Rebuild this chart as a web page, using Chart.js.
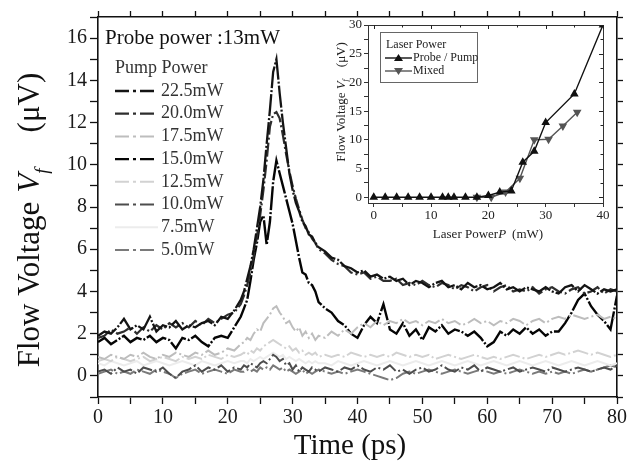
<!DOCTYPE html>
<html>
<head>
<meta charset="utf-8">
<script src="https://cdn.jsdelivr.net/npm/chart.js@4"></script>
<style>
  body { margin: 0; background: #fff; }
  #wrap { position: relative; width: 632px; height: 468px; }
  #main { position: absolute; left: 0; top: 0; }
  #inset { position: absolute; left: 318px; top: 12px; }
</style>
</head>
<body>
<div id="wrap">
  <canvas id="main" width="632" height="468"></canvas>
  <canvas id="inset" width="300" height="236"></canvas>
</div>
<script>
// time axis (ps) - finer steps around the peak
const time = [0,1,2,3,4,5,6,7,8,9,10,11,12,13,14,15,16,17,18,19,20,21,22,
  22.5,23,23.5,24,24.5,25,25.5,26,26.5,27,27.5,28,28.5,29,29.5,30,30.5,31,31.5,32,32.5,33,33.5,34,
  35,36,37,38,39,40,41,42,43,44,45,46,47,48,49,50,51,52,53,54,55,56,57,58,59,60,
  61,62,63,64,65,66,67,68,69,70,71,72,73,74,75,76,77,78,79,80];

// flow voltage (uV) for each pump power
const s225 = [1.9,2.1,2.0,2.3,2.7,2.2,2.4,2.2,2.8,2.1,2.4,2.3,2.6,2.2,2.4,2.3,2.5,2.6,2.4,2.8,2.7,3.1,3.6,
  4.0,4.6,5.2,6.0,7.0,8.0,9.3,11.0,12.6,14.4,15.0,13.4,12.0,10.8,9.6,8.8,8.2,7.8,7.3,7.1,6.7,6.6,6.3,6.1,
  5.9,5.6,5.5,5.2,5.1,4.9,5.0,4.7,4.8,4.6,4.7,4.5,4.6,4.3,4.5,4.4,4.2,4.4,4.5,4.2,4.3,4.1,4.4,4.2,4.3,4.1,
  4.2,4.4,4.1,4.2,4.0,4.2,4.1,4.0,4.2,4.0,3.9,4.2,4.3,4.0,4.3,4.1,3.9,4.1,4.0,4.1];
const s200 = [1.8,1.9,2.2,2.0,2.1,2.3,2.0,2.3,2.1,2.4,2.2,2.5,2.3,2.5,2.3,2.6,2.4,2.7,2.5,2.7,2.9,3.0,3.4,
  3.8,4.3,4.9,5.7,6.6,7.6,8.8,10.2,11.8,12.4,12.5,12.2,11.4,10.5,9.7,9.0,8.4,7.9,7.4,7.0,6.8,6.5,6.3,6.0,
  5.8,5.5,5.3,5.2,4.9,4.8,4.9,4.6,4.7,4.5,4.5,4.6,4.3,4.4,4.3,4.5,4.3,4.2,4.4,4.3,4.1,4.3,4.2,4.0,4.2,4.3,
  4.0,4.2,4.3,4.0,4.1,4.0,4.2,3.9,4.1,4.2,4.0,3.9,4.1,4.2,3.9,4.0,4.2,3.9,4.1,4.0];
const s175 = [0.9,0.8,1.0,0.9,0.8,1.0,0.9,1.1,0.9,0.8,1.0,0.9,1.1,1.0,0.9,1.1,1.0,1.2,1.0,1.1,1.3,1.2,1.5,
  1.6,1.8,1.7,2.0,2.2,2.1,2.5,2.7,2.9,3.2,3.3,3.0,2.8,2.5,2.6,2.3,2.1,2.3,1.9,2.1,1.8,2.0,1.7,1.9,
  1.8,2.1,1.9,2.2,2.0,2.3,2.5,2.3,2.6,2.4,2.6,2.5,2.7,2.5,2.6,2.4,2.6,2.5,2.7,2.5,2.6,2.4,2.5,2.7,2.5,2.6,
  2.4,2.6,2.5,2.7,2.6,2.4,2.6,2.7,2.5,2.7,2.8,2.7,2.9,2.8,2.7,2.8,2.9,2.7,2.8,2.7];
const s150 = [1.6,1.8,1.5,1.7,1.9,1.6,1.8,1.7,1.9,1.6,1.8,1.7,1.3,1.8,1.7,1.9,1.6,1.4,1.8,1.9,1.8,2.3,2.8,
  3.2,3.6,4.5,5.5,6.3,7.3,7.6,6.2,7.3,9.2,10.2,9.6,9.0,8.4,7.8,7.2,6.4,5.6,4.9,4.8,4.4,4.3,4.0,3.5,
  3.2,3.0,2.6,2.4,2.0,1.8,2.4,2.8,2.5,3.4,2.2,2.0,2.5,1.9,2.2,1.7,2.3,2.1,2.4,2.0,2.2,2.1,1.9,2.1,1.8,1.4,
  1.6,2.1,1.9,2.2,2.0,2.3,2.0,2.2,1.9,2.1,2.1,2.5,3.0,3.6,3.9,3.3,2.9,2.6,2.2,3.8];
const s125 = [0.7,0.8,0.7,0.9,0.8,0.7,0.8,0.9,0.7,0.8,0.9,0.8,0.7,0.9,0.8,0.9,0.8,1.0,0.9,0.8,1.0,0.9,1.0,
  1.1,1.0,1.2,1.1,1.3,1.2,1.4,1.5,1.6,1.7,1.6,1.5,1.4,1.3,1.4,1.2,1.3,1.1,1.2,1.0,1.1,1.0,1.1,0.9,
  1.0,0.9,1.0,0.9,1.1,1.0,0.9,1.0,0.9,1.0,0.9,1.1,1.0,0.9,1.0,0.9,1.0,0.8,0.9,1.0,0.9,0.8,0.9,1.0,0.9,0.8,
  0.9,0.8,0.9,1.0,0.9,0.8,0.9,1.0,0.9,1.0,1.1,1.0,1.1,1.2,1.1,1.0,1.1,1.0,0.9,1.0];
const s100 = [0.2,0.3,0.1,0.4,0.2,0.3,0.1,0.4,0.3,0.2,0.4,0.1,-0.1,0.2,0.3,0.5,0.2,0.4,0.3,0.5,0.2,0.4,0.3,
  0.5,0.4,0.6,0.5,0.4,0.6,0.7,0.6,0.8,1.0,0.9,0.7,0.8,0.5,0.6,0.3,0.5,0.2,0.4,0.3,0.2,0.4,0.3,0.2,
  0.4,0.3,0.2,0.4,0.3,0.5,0.3,0.2,0.4,0.3,0.5,0.2,0.3,0.1,0.3,0.4,0.2,0.3,0.5,0.3,0.2,0.4,0.3,0.5,0.2,0.4,
  0.3,0.2,0.3,0.4,0.2,0.3,0.4,0.3,0.2,0.4,0.3,0.2,0.3,0.4,0.3,0.2,0.3,0.4,0.3,0.5];
const s075 = [0.6,0.5,0.7,0.6,0.5,0.6,0.7,0.5,0.6,0.7,0.6,0.5,0.6,0.7,0.6,0.5,0.7,0.6,0.5,0.6,0.7,0.6,0.7,
  0.7,0.6,0.8,0.7,0.8,0.9,0.8,0.9,1.0,1.1,1.0,0.9,1.0,0.8,0.9,0.8,0.7,0.8,0.7,0.6,0.7,0.6,0.7,0.6,
  0.6,0.5,0.7,0.6,0.5,0.6,0.7,0.6,0.5,0.6,0.7,0.6,0.5,0.6,0.7,0.6,0.5,0.6,0.7,0.6,0.5,0.6,0.7,0.6,0.5,0.6,
  0.7,0.6,0.5,0.6,0.7,0.6,0.5,0.6,0.7,0.6,0.5,0.6,0.7,0.6,0.5,0.6,0.7,0.6,0.5,0.6];
const s050 = [0.1,0.2,0.3,0.1,0.2,0.1,0.3,0.2,0.1,0.3,0.2,0.1,-0.1,0.1,0.2,0.3,0.1,0.2,0.3,0.2,0.1,0.3,0.2,
  0.2,0.3,0.2,0.3,0.2,0.4,0.3,0.4,0.3,0.5,0.4,0.3,0.4,0.2,0.3,0.2,0.1,0.2,0.3,0.1,0.2,0.1,0.2,0.3,
  0.2,0.1,0.2,0.1,0.2,0.3,0.2,0.1,0.0,-0.1,-0.2,-0.1,0.1,0.2,0.1,0.2,0.3,0.2,0.1,0.2,0.3,0.2,0.1,0.2,0.3,0.2,
  0.1,0.2,0.1,0.2,0.3,0.2,0.1,0.2,0.1,0.2,0.1,0.2,0.1,0.2,0.3,0.2,0.3,0.4,0.5,0.4];

const pumpLabels = ['22.5mW','20.0mW','17.5mW','15.0mW','12.5mW','10.0mW','7.5mW','5.0mW'];
const pumpSeries = [s225, s200, s175, s150, s125, s100, s075, s050];

const mainXTicks = [0,5,10,15,20,25,30,35,40,45,50,55,60,65,70,75,80];
const mainYTicks = [-1,0,1,2,3,4,5,6,7,8,9,10,11,12,13,14,15,16,17];

// inset: flow voltage vs laser power
const probeP = [0,2,4,6,8,10,12,13,14,16,18,20,22,24,26,28,30,35,40];
const probeV = [0,0,0,0,0,0,0,0,0,0,0,0.3,0.9,1.1,6.1,8.0,13.0,18.0,30.0];
const mixedP = [18,20.5,23,25.5,28,30.5,33,35.5];
const mixedV = [0,0,0.9,3.3,10.0,10.1,12.4,14.8];

const insetXTicks = [0,5,10,15,20,25,30,35,40];
const insetYTicks = [0,2.5,5,7.5,10,12.5,15,17.5,20,22.5,25,27.5,30];

const serif = '"Liberation Serif", "Times New Roman", serif';

// line looks, same order as pumpLabels
const styles = [
  { color: '#141414', width: 2.3, dash: [22, 2, 2, 2], key: [14, 4, 3, 4] },
  { color: '#2e2e2e', width: 2.2, dash: [14, 3, 2, 3], key: [14, 4, 3, 4] },
  { color: '#bdbdbd', width: 2.0, dash: [16, 3, 2, 3], key: [14, 4, 3, 4] },
  { color: '#050505', width: 2.4, dash: [24, 2, 2, 2], key: [14, 4, 3, 4] },
  { color: '#d2d2d2', width: 2.0, dash: [16, 3, 2, 3], key: [14, 4, 3, 4] },
  { color: '#4d4d4d', width: 2.0, dash: [16, 3, 2, 3], key: [14, 4, 3, 4] },
  { color: '#ececec', width: 2.0, dash: [], key: [] },
  { color: '#7a7a7a', width: 2.0, dash: [16, 3, 2, 3], key: [14, 4, 3, 4] }
];

const datasets = pumpSeries.map((ys, i) => ({
  label: pumpLabels[i],
  data: time.map((t, j) => ({ x: t, y: ys[j] })),
  borderColor: styles[i].color,
  borderWidth: styles[i].width,
  borderDash: styles[i].dash,
  pointRadius: 0,
  tension: 0,
  fill: false
}));

// draws a title made of parts (normal / italic / subscript) centred at 0,0
function drawParts(ctx, parts, size) {
  const fontOf = p => `${p.italic ? 'italic ' : ''}${p.sub ? Math.round(size * 0.62) : size}px ${serif}`;
  let total = 0;
  parts.forEach(p => {
    if (p.gap) { total += p.gap; return; }
    ctx.font = fontOf(p);
    total += ctx.measureText(p.t).width;
  });
  let x = -total / 2;
  ctx.textAlign = 'left';
  ctx.textBaseline = 'alphabetic';
  parts.forEach(p => {
    if (p.gap) { x += p.gap; return; }
    ctx.font = fontOf(p);
    ctx.fillText(p.t, x, size * 0.35 + (p.sub ? size * 0.28 : 0));
    x += ctx.measureText(p.t).width;
  });
}

const mainDeco = {
  id: 'mainDeco',
  afterDraw(chart) {
    const ctx = chart.ctx;
    ctx.save();
    ctx.fillStyle = '#111';
    ctx.textAlign = 'center';
    ctx.textBaseline = 'middle';
    ctx.font = `29px ${serif}`;
    ctx.fillText('Time (ps)', 350, 446);

    ctx.save();
    ctx.translate(28, 220);
    ctx.rotate(-Math.PI / 2);
    drawParts(ctx, [
      { t: 'Flow Voltage' }, { gap: 9 }, { t: 'V', italic: true }, { t: 'f', italic: true, sub: true },
      { gap: 36 }, { t: '(\u03bcV)' }
    ], 31);
    ctx.restore();

    // legend
    ctx.textAlign = 'left';
    ctx.textBaseline = 'middle';
    ctx.font = `21px ${serif}`;
    ctx.fillStyle = '#111';
    ctx.fillText('Probe power :13mW', 105, 38);
    ctx.font = `18px ${serif}`;
    ctx.fillStyle = '#333';
    ctx.fillText('Pump Power', 115, 68);
    chart.data.datasets.forEach((ds, i) => {
      const y = 91 + i * 22.7;
      ctx.strokeStyle = ds.borderColor;
      ctx.lineWidth = ds.borderWidth;
      ctx.setLineDash(styles[i].key);
      ctx.beginPath();
      ctx.moveTo(115, y);
      ctx.lineTo(158, y);
      ctx.stroke();
      ctx.setLineDash([]);
      ctx.fillStyle = '#333';
      ctx.fillText(ds.label, 161, y);
    });
    ctx.restore();
  }
};

const frame = { color: '#111', width: 1.6 };
const setTicks = arr => s => { s.ticks = arr.map(v => ({ value: v })); };

new Chart(document.getElementById('main'), {
  type: 'line',
  data: { datasets },
  options: {
    responsive: false,
    devicePixelRatio: 1,
    animation: false,
    events: [],
    layout: { padding: 0 },
    plugins: { legend: { display: false }, tooltip: { enabled: false } },
    scales: {
      x: {
        type: 'linear', position: 'bottom', min: 0, max: 80,
        afterBuildTicks: setTicks(mainXTicks),
        afterFit: s => { s.height = 71; },
        ticks: { autoSkip: false, maxRotation: 0, padding: 2, color: '#1a1a1a',
          font: { family: serif, size: 20 }, callback: v => (v % 10 === 0 ? v : '') },
        grid: { drawOnChartArea: false, tickLength: 7, tickColor: '#111', tickWidth: 1.3 },
        border: frame
      },
      x2: {
        type: 'linear', position: 'top', min: 0, max: 80,
        afterBuildTicks: setTicks(mainXTicks),
        afterFit: s => { s.height = 17; },
        ticks: { display: false },
        grid: { drawOnChartArea: false, tickLength: 6, tickColor: '#111', tickWidth: 1.3 },
        border: frame
      },
      y: {
        type: 'linear', position: 'left', min: -1, max: 17,
        afterBuildTicks: setTicks(mainYTicks),
        afterFit: s => { s.width = 98; },
        ticks: { autoSkip: false, padding: 3, color: '#1a1a1a',
          font: { family: serif, size: 20 }, callback: v => (v >= 0 && v % 2 === 0 ? v : '') },
        grid: { drawOnChartArea: false, tickLength: 8, tickColor: '#111', tickWidth: 1.3 },
        border: frame
      },
      y2: {
        type: 'linear', position: 'right', min: -1, max: 17,
        afterBuildTicks: setTicks(mainYTicks),
        afterFit: s => { s.width = 15; },
        ticks: { display: false },
        grid: { drawOnChartArea: false, tickLength: 6, tickColor: '#111', tickWidth: 1.3 },
        border: frame
      }
    }
  },
  plugins: [mainDeco]
});

// inset chart
const insetDeco = {
  id: 'insetDeco',
  afterDraw(chart) {
    const ctx = chart.ctx;
    const a = chart.chartArea;
    const sx = chart.scales.x, sy = chart.scales.y;
    ctx.save();
    // inward ticks on top and right
    ctx.strokeStyle = '#222';
    ctx.lineWidth = 1;
    insetXTicks.forEach(v => {
      const px = Math.round(sx.getPixelForValue(v)) + 0.5;
      const len = v % 10 === 0 ? 4 : 2.5;
      ctx.beginPath(); ctx.moveTo(px, a.top); ctx.lineTo(px, a.top + len); ctx.stroke();
    });
    insetYTicks.forEach(v => {
      const py = Math.round(sy.getPixelForValue(v)) + 0.5;
      const len = v % 5 === 0 ? 4 : 2.5;
      ctx.beginPath(); ctx.moveTo(a.right, py); ctx.lineTo(a.right - len, py); ctx.stroke();
    });

    ctx.fillStyle = '#222';
    ctx.save();
    ctx.translate(170, 221);
    drawParts(ctx, [{ t: 'Laser Power' }, { t: 'P', italic: true }, { gap: 6 }, { t: '(mW)' }], 13);
    ctx.restore();

    ctx.save();
    ctx.translate(22, 90);
    ctx.rotate(-Math.PI / 2);
    drawParts(ctx, [
      { t: 'Flow Voltage' }, { gap: 3 }, { t: 'V', italic: true }, { t: 'f', italic: true, sub: true },
      { gap: 12 }, { t: '(\u03bcV)' }
    ], 13);
    ctx.restore();

    // legend box
    ctx.strokeStyle = '#666';
    ctx.lineWidth = 1;
    ctx.strokeRect(62.5, 20.5, 97, 50);
    ctx.textAlign = 'left';
    ctx.textBaseline = 'middle';
    ctx.font = `12px ${serif}`;
    ctx.fillStyle = '#222';
    ctx.fillText('Laser Power', 68, 33);
    chart.data.datasets.forEach((ds, i) => {
      const y = 46 + i * 13;
      ctx.strokeStyle = ds.borderColor;
      ctx.lineWidth = ds.borderWidth;
      ctx.beginPath(); ctx.moveTo(67, y); ctx.lineTo(94, y); ctx.stroke();
      ctx.fillStyle = ds.borderColor;
      ctx.beginPath();
      if (i === 0) { ctx.moveTo(80.5, y - 4); ctx.lineTo(85, y + 3); ctx.lineTo(76, y + 3); }
      else { ctx.moveTo(80.5, y + 4); ctx.lineTo(85, y - 3); ctx.lineTo(76, y - 3); }
      ctx.closePath(); ctx.fill();
      ctx.fillStyle = '#222';
      ctx.fillText(ds.label, 95, y);
    });
    ctx.restore();
  }
};

const thin = { color: '#333', width: 1 };

new Chart(document.getElementById('inset'), {
  type: 'line',
  data: {
    datasets: [
      { label: 'Probe / Pump', data: probeP.map((p, i) => ({ x: p, y: probeV[i] })),
        borderColor: '#111', backgroundColor: '#111', borderWidth: 1.4,
        pointStyle: 'triangle', pointRadius: 3.6, tension: 0 },
      { label: 'Mixed', data: mixedP.map((p, i) => ({ x: p, y: mixedV[i] })),
        borderColor: '#555', backgroundColor: '#555', borderWidth: 1.4,
        pointStyle: 'triangle', pointRotation: 180, pointRadius: 3.6, tension: 0 }
    ]
  },
  options: {
    responsive: false,
    devicePixelRatio: 1,
    animation: false,
    events: [],
    layout: { padding: 0 },
    plugins: { legend: { display: false }, tooltip: { enabled: false } },
    scales: {
      x: {
        type: 'linear', position: 'bottom', min: -1, max: 40,
        afterBuildTicks: setTicks(insetXTicks),
        afterFit: s => { s.height = 45; },
        ticks: { autoSkip: false, maxRotation: 0, padding: 1, color: '#222',
          font: { family: serif, size: 13 }, callback: v => (v % 10 === 0 ? v : '') },
        grid: { drawOnChartArea: false, tickLength: 4, tickColor: '#333' },
        border: thin
      },
      x2: {
        type: 'linear', position: 'top', min: -1, max: 40,
        afterFit: s => { s.height = 13; },
        ticks: { display: false },
        grid: { drawOnChartArea: false, drawTicks: false },
        border: thin
      },
      y: {
        type: 'linear', position: 'left', min: -1, max: 30,
        afterBuildTicks: setTicks(insetYTicks),
        afterFit: s => { s.width = 50; },
        ticks: { autoSkip: false, padding: 2, color: '#222',
          font: { family: serif, size: 13 }, callback: v => (v % 5 === 0 ? v : '') },
        grid: { drawOnChartArea: false, tickLength: 4, tickColor: '#333' },
        border: thin
      },
      y2: {
        type: 'linear', position: 'right', min: -1, max: 30,
        afterFit: s => { s.width = 15; },
        ticks: { display: false },
        grid: { drawOnChartArea: false, drawTicks: false },
        border: thin
      }
    }
  },
  plugins: [insetDeco]
});
</script>
</body>
</html>
